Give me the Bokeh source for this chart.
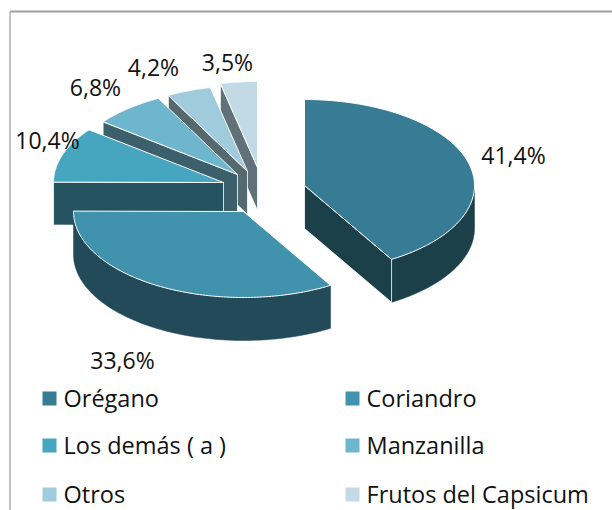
import numpy as np
from bokeh.plotting import figure
from bokeh.models import Range1d
from bokeh.core.properties import value
from bokeh.embed import file_html
from bokeh.resources import INLINE

# --- data ---
categories = ["Orégano", "Coriandro", "Los demás  ( a )", "Manzanilla", "Otros", "Frutos del Capsicum"]
shares = [41.4, 33.6, 10.4, 6.8, 4.2, 3.5]
labels = ["41,4%", "33,6%", "10,4%", "6,8%", "4,2%", "3,5%"]

# --- style ---
top_colors = ["#377C94", "#4193AD", "#46A5BF", "#6DB6CE", "#9FCBDC", "#C1DAE5"]
wall_colors = ["#1C404A", "#234A58", "#265360", "#3B5F6B", "#56696F", "#60717A"]

# --- layout (picture pixels) ---
CX, CY = 264, 190
A, B, DEPTH = 170, 86, 43
explode_dx = [40, -21, -41, -27, -17, -7]
explode_dy = [-5, 21, -8, -16, -19, -23]
draw_order = [5, 4, 3, 2, 0, 1]
label_x = [513, 122, 47, 95, 153, 227]
label_y = [154, 359, 139, 86, 66, 61]
legend_sw_x = [42, 345, 42, 345, 42, 345]
legend_sw_y = [391, 391, 438, 438, 487, 487]
SW = 14
legend_text_dx = 21
FONT = "Open Sans"

p = figure(width=612, height=510, output_backend="svg", toolbar_location=None,
           x_range=Range1d(0, 612), y_range=Range1d(510, 0), min_border=0,
           outline_line_color=None, background_fill_color="white", border_fill_color="white")
p.axis.visible = False
p.grid.visible = False

# frame
p.line([9.5, 9.5], [510, 11], line_color="#8c8c8c", line_width=1)
p.line([9.5, 612], [11, 11], line_color="#a0a0a0", line_width=2)

# slice angles, clockwise from 12 o'clock
total = sum(shares)
edges = np.radians(np.concatenate([[0], np.cumsum(shares)]) / total * 360)


def pt(cx, cy, t):
    return cx + A * np.sin(t), cy - B * np.cos(t)


for i in draw_order:
    t0, t1 = edges[i], edges[i + 1]
    cx, cy = CX + explode_dx[i], CY + explode_dy[i]
    # outer wall, front half only
    lo, hi = max(t0, np.pi / 2), min(t1, 3 * np.pi / 2)
    if hi > lo:
        ts = np.linspace(lo, hi, 80)
        x, y = pt(cx, cy, ts)
        p.patch(np.r_[x, x[::-1]], np.r_[y, y[::-1] + DEPTH], fill_color=wall_colors[i],
                line_color=wall_colors[i], line_width=0.5)
    # radial walls that face the viewer
    if np.sin(t0) < -1e-6 or abs(t0 - 1.5 * np.pi) < 1e-2:
        x, y = pt(cx, cy, t0)
        p.patch([cx, x, x, cx], [cy, y, y + DEPTH, cy + DEPTH], fill_color=wall_colors[i],
                line_color="white", line_width=0.8)
    if np.sin(t1) > 1e-6:
        x, y = pt(cx, cy, t1)
        p.patch([cx, x, x, cx], [cy, y, y + DEPTH, cy + DEPTH], fill_color=wall_colors[i],
                line_color="white", line_width=0.8)
    # top face
    ts = np.linspace(t0, t1, 120)
    x, y = pt(cx, cy, ts)
    p.patch(np.r_[cx, x], np.r_[cy, y], fill_color=top_colors[i], line_color="white", line_width=1)

# data labels
p.text(label_x, label_y, text=labels, text_font=value(FONT), text_font_size="23px",
       text_color="#111111", text_align="center", text_baseline="middle")

# legend
for i, name in enumerate(categories):
    p.quad(left=[legend_sw_x[i]], right=[legend_sw_x[i] + SW], top=[legend_sw_y[i]],
           bottom=[legend_sw_y[i] + SW], fill_color=top_colors[i], line_color=None)
    p.text([legend_sw_x[i] + legend_text_dx], [legend_sw_y[i] + SW / 2 - 0.5], text=[name],
           text_font=value(FONT), text_font_size="23.5px", text_color="#111111",
           text_align="left", text_baseline="middle")

open("out.html", "w").write(file_html(p, INLINE))
